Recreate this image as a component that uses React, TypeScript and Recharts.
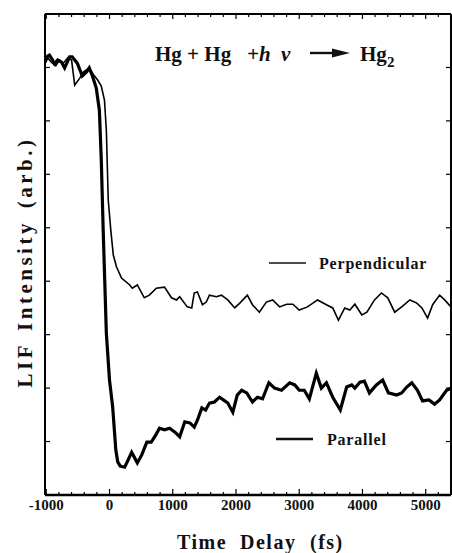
import React from 'react'
import { LineChart, Line, XAxis, YAxis } from 'recharts'

// time delay (fs) and LIF intensity (arb.)
const perpTime = [-1020, -980, -920, -850, -790, -730, -660, -600, -550, -470, -410, -320, -250, -190, -130, -80, -50, -20, 20, 60, 110, 190, 320, 360, 440, 550, 630, 740, 870, 980, 1060, 1110, 1230, 1300, 1340, 1390, 1470, 1530, 1580, 1690, 1770, 1870, 1980, 2060, 2180, 2260, 2370, 2480, 2580, 2690, 2800, 2900, 3000, 3130, 3290, 3430, 3530, 3620, 3720, 3800, 3880, 3990, 4070, 4190, 4300, 4400, 4510, 4620, 4750, 4860, 4940, 5030, 5110, 5220, 5300, 5400]
const perpLif = [8.07, 8.18, 8.10, 8.03, 8.14, 8.08, 8.18, 8.14, 7.67, 7.80, 7.92, 7.99, 7.86, 7.77, 7.65, 7.39, 6.83, 5.52, 4.96, 4.49, 4.27, 4.06, 3.93, 3.87, 3.93, 3.69, 3.74, 3.87, 3.89, 3.69, 3.65, 3.71, 3.52, 3.50, 3.78, 3.80, 3.56, 3.61, 3.74, 3.71, 3.74, 3.65, 3.50, 3.59, 3.74, 3.56, 3.42, 3.61, 3.65, 3.52, 3.57, 3.57, 3.46, 3.52, 3.65, 3.56, 3.50, 3.27, 3.50, 3.46, 3.57, 3.37, 3.42, 3.65, 3.78, 3.69, 3.42, 3.52, 3.65, 3.59, 3.50, 3.31, 3.56, 3.74, 3.65, 3.52]

const paraTime = [-1020, -980, -950, -900, -870, -820, -760, -710, -630, -590, -510, -430, -360, -320, -270, -210, -160, -130, -100, -50, 0, 50, 100, 130, 170, 240, 280, 350, 400, 440, 510, 590, 660, 730, 790, 870, 950, 1030, 1110, 1190, 1270, 1340, 1390, 1460, 1520, 1580, 1660, 1740, 1800, 1870, 1950, 2020, 2090, 2170, 2260, 2340, 2420, 2520, 2610, 2720, 2850, 2930, 3000, 3080, 3160, 3270, 3350, 3430, 3530, 3650, 3750, 3830, 3880, 3960, 4030, 4110, 4220, 4320, 4410, 4540, 4620, 4700, 4780, 4870, 4950, 5050, 5140, 5220, 5330, 5400]
const paraLif = [8.10, 8.21, 8.23, 8.14, 8.07, 8.14, 8.10, 7.99, 8.20, 8.20, 8.08, 7.84, 7.92, 7.99, 7.84, 7.62, 7.20, 6.27, 4.96, 3.03, 2.15, 1.65, 0.84, 0.62, 0.54, 0.52, 0.62, 0.80, 0.69, 0.60, 0.75, 0.99, 0.99, 1.12, 1.25, 1.22, 1.25, 1.18, 1.09, 1.37, 1.35, 1.27, 1.40, 1.63, 1.59, 1.72, 1.74, 1.83, 1.78, 1.72, 1.55, 1.87, 1.96, 1.91, 1.74, 1.83, 1.80, 2.10, 2.00, 1.96, 2.10, 2.06, 1.96, 1.96, 1.80, 2.28, 2.00, 2.10, 1.83, 1.59, 2.02, 2.06, 2.00, 2.11, 2.13, 1.91, 2.06, 2.15, 1.91, 1.87, 1.91, 2.02, 2.10, 1.96, 1.76, 1.78, 1.70, 1.78, 1.96, 2.00]

const xTicks = [-1000, -800, -600, -400, -200, 0, 200, 400, 600, 800, 1000, 1200, 1400, 1600, 1800, 2000, 2200, 2400, 2600, 2800, 3000, 3200, 3400, 3600, 3800, 4000, 4200, 4400, 4600, 4800, 5000, 5200, 5400]
const xLabels = [-1000, 0, 1000, 2000, 3000, 4000, 5000]
const yTicks = [1, 2, 3, 4, 5, 6, 7, 8]

const perpData = perpTime.map((t, i) => ({ t, v: perpLif[i] }))
const paraData = paraTime.map((t, i) => ({ t, v: paraLif[i] }))

const serif = 'Liberation Serif'

function BottomTick({ x, y, payload }: any) {
  const major = xLabels.includes(payload.value)
  return (
    <g>
      <line x1={x} x2={x} y1={y} y2={y - (major ? 6 : 3)} stroke="#000" strokeWidth={1.2} />
      {major && (
        <text x={x} y={y + 15} textAnchor="middle" fontFamily={serif} fontWeight="bold" fontSize={15} fill="#111">
          {payload.value}
        </text>
      )}
    </g>
  )
}

function TopTick({ x, y, payload }: any) {
  const major = xLabels.includes(payload.value)
  return <line x1={x} x2={x} y1={y} y2={y + (major ? 5 : 3)} stroke="#000" strokeWidth={1.2} />
}

function LeftTick({ x, y }: any) {
  return <line x1={x} x2={x + 5} y1={y} y2={y} stroke="#000" strokeWidth={1.2} />
}

function RightTick({ x, y }: any) {
  return <line x1={x} x2={x - 5} y1={y} y2={y} stroke="#000" strokeWidth={1.2} />
}

export default function App() {
  return (
    <div style={{ position: 'absolute', left: 0, top: 0, width: 452, height: 553, background: '#fff' }}>
      <LineChart width={452} height={553} data={perpData} margin={{ top: 13, right: 0, bottom: 57, left: 44 }}>
        <XAxis dataKey="t" type="number" domain={[-1020, 5400]} ticks={xTicks} interval={0}
          height={1} tickSize={0} tickMargin={0} tickLine={false} tick={<BottomTick />}
          axisLine={{ stroke: '#000', strokeWidth: 2.5 }} allowDataOverflow />
        <XAxis xAxisId="top" orientation="top" dataKey="t" type="number" domain={[-1020, 5400]} ticks={xTicks} interval={0}
          height={1} tickSize={0} tickMargin={0} tickLine={false} tick={<TopTick />}
          axisLine={{ stroke: '#000', strokeWidth: 2 }} allowDataOverflow />
        <YAxis type="number" domain={[0, 9]} ticks={yTicks} interval={0} width={1}
          tickSize={0} tickMargin={0} tickLine={false} tick={<LeftTick />}
          axisLine={{ stroke: '#000', strokeWidth: 2 }} allowDataOverflow />
        <YAxis yAxisId="right" orientation="right" type="number" domain={[0, 9]} ticks={yTicks} interval={0} width={1}
          tickSize={0} tickMargin={0} tickLine={false} tick={<RightTick />}
          axisLine={{ stroke: '#000', strokeWidth: 2 }} allowDataOverflow />
        <Line data={perpData} dataKey="v" type="linear" stroke="#000" strokeWidth={1.6} dot={false} isAnimationActive={false} />
        <Line data={paraData} dataKey="v" type="linear" stroke="#000" strokeWidth={3.2} dot={false} isAnimationActive={false} />
      </LineChart>
      <svg width={452} height={553} style={{ position: 'absolute', left: 0, top: 0, pointerEvents: 'none' }}>
        <g fontFamily={serif} fontWeight="bold" fill="#111">
          <text x={155} y={61} fontSize={21}>Hg + Hg</text>
          <text x={247} y={61} fontSize={21} fontStyle="italic">+h</text>
          <text x={281} y={61} fontSize={21} fontStyle="italic">ν</text>
          <line x1={310} x2={336} y1={53} y2={53} stroke="#111" strokeWidth={2.4} />
          <polygon points="332,48.5 350,53 332,57.5" fill="#111" />
          <text x={360} y={61} fontSize={21}>Hg</text>
          <text x={387} y={67} fontSize={15}>2</text>

          <line x1={269} x2={306} y1={263} y2={263} stroke="#111" strokeWidth={1.6} />
          <text x={319} y={269} fontSize={16} letterSpacing={0.8}>Perpendicular</text>
          <line x1={276} x2={313} y1={439} y2={439} stroke="#111" strokeWidth={2.6} />
          <text x={327} y={445} fontSize={16} letterSpacing={0.8}>Parallel</text>

          <text x={177} y={549} fontSize={20} letterSpacing={1.5}>Time</text>
          <text x={240} y={549} fontSize={20} letterSpacing={1.5}>Delay</text>
          <text x={310} y={549} fontSize={20} letterSpacing={1.5}>(fs)</text>

          <text transform="translate(32,262) rotate(-90)" textAnchor="middle" fontSize={21} letterSpacing={3.5} wordSpacing={3}>
            LIF Intensity (arb.)
          </text>
        </g>
      </svg>
    </div>
  )
}
